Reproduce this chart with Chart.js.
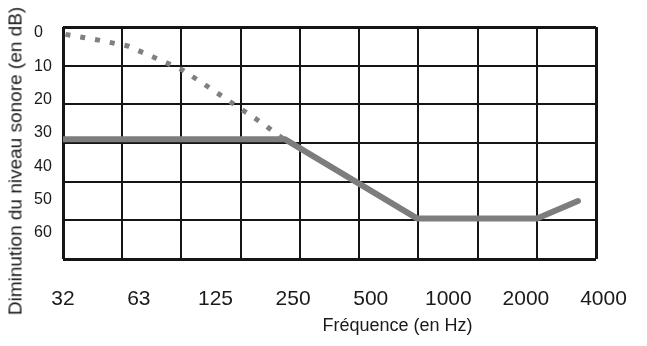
<!DOCTYPE html>
<html>
<head>
<meta charset="utf-8">
<script src="https://cdn.jsdelivr.net/npm/chart.js@4.4.0/dist/chart.umd.min.js"></script>
<style>
html,body{margin:0;padding:0;background:#fff;}
#wrap{position:relative;width:647px;height:346px;overflow:hidden;}
#c{position:absolute;left:0;top:0;}
.ttl{position:absolute;font-family:'Liberation Sans',Arial,sans-serif;color:#1a1a1a;white-space:nowrap;}
#ytitle{left:15px;top:160.5px;font-size:19px;line-height:19px;transform:translate(-50%,-50%) rotate(-90deg);}
#xtitle{left:397.5px;top:316px;font-size:18px;line-height:18px;transform:translateX(-50%);}
</style>
</head>
<body>
<div id="wrap">
<canvas id="c" width="647" height="346"></canvas>
<div class="ttl" id="ytitle">Diminution du niveau sonore (en dB)</div>
<div class="ttl" id="xtitle">Fréquence (en Hz)</div>
</div>
<script>
// ---- data ----
const freqLabels = [32, 63, 125, 250, 500, 1000, 2000, 4000];
const dbLabels = [0, 10, 20, 30, 40, 50, 60];
const solidFreq = [32, 232, 756, 2208, 3184];
const solidDb = [29, 29, 49.5, 49.5, 45];
const dottedFreq = [32, 44, 57, 73, 93, 119, 149, 189, 232];
const dottedDb = [1.8, 3.4, 4.9, 8.0, 11.1, 15.8, 20.2, 24.8, 29.2];

const FONT = "'Liberation Sans', Arial, sans-serif";
const GRID = '#151515';
const TXT = '#1a1a1a';
const edgeWidth = c => (c.index === 0 || c.index === c.scale.ticks.length - 1) ? 3 : 2;

new Chart(document.getElementById('c'), {
  type: 'line',
  data: {
    datasets: [
      {
        data: dottedFreq.map((f, i) => ({x: f, y: dottedDb[i]})),
        xAxisID: 'xl', yAxisID: 'y',
        borderColor: '#808080', borderWidth: 5,
        borderDash: [5, 10], borderDashOffset: 12.5, borderCapStyle: 'butt',
        pointRadius: 0, fill: false, tension: 0
      },
      {
        data: solidFreq.map((f, i) => ({x: f, y: solidDb[i]})),
        xAxisID: 'xl', yAxisID: 'y',
        borderColor: '#7d7d7d', borderWidth: 6,
        borderCapStyle: 'round', borderJoinStyle: 'round',
        pointRadius: 0, fill: false, tension: 0,
        clip: {left: 0, right: 6, top: 6, bottom: 6}
      }
    ]
  },
  options: {
    responsive: false,
    animation: false,
    devicePixelRatio: 1,
    layout: {padding: {left: 34, right: 51, top: 27, bottom: 27}},
    plugins: {legend: {display: false}, tooltip: {enabled: false}},
    scales: {
      x: {
        type: 'linear', position: 'bottom', min: 0, max: 9, z: 1,
        ticks: {display: false, stepSize: 1},
        grid: {color: GRID, lineWidth: edgeWidth, drawTicks: false},
        border: {display: false},
        afterFit: s => { s.height = 0; s.paddingLeft = 0; s.paddingRight = 0; }
      },
      xl: {
        type: 'logarithmic', position: 'bottom', min: 32, max: 3741,
        grid: {display: false}, border: {display: false},
        ticks: {
          autoSkip: false, maxRotation: 0, minRotation: 0, padding: 20,
          color: TXT, font: {family: FONT, size: 21},
          callback: v => String(v)
        },
        afterBuildTicks: s => { s.ticks = freqLabels.map(v => ({value: v})); },
        afterFit: s => { s.height = 60; s.paddingLeft = 0; s.paddingRight = 0; }
      },
      y: {
        type: 'linear', position: 'left', reverse: true, min: 0, max: 60, z: 1,
        ticks: {display: false, stepSize: 10},
        grid: {color: GRID, lineWidth: edgeWidth, drawTicks: false},
        border: {display: false},
        afterFit: s => { s.width = 0; s.paddingTop = 0; s.paddingBottom = 0; }
      },
      yl: {
        type: 'linear', position: 'left', reverse: true, min: -1.8, max: 67.8,
        grid: {display: false}, border: {display: false},
        ticks: {
          crossAlign: 'far', padding: 0, color: TXT,
          font: {family: FONT, size: 16},
          callback: v => String(v)
        },
        afterBuildTicks: s => { s.ticks = dbLabels.map(v => ({value: v})); },
        afterFit: s => { s.width = 29; s.paddingTop = 0; s.paddingBottom = 0; }
      }
    }
  }
});
</script>
</body>
</html>
